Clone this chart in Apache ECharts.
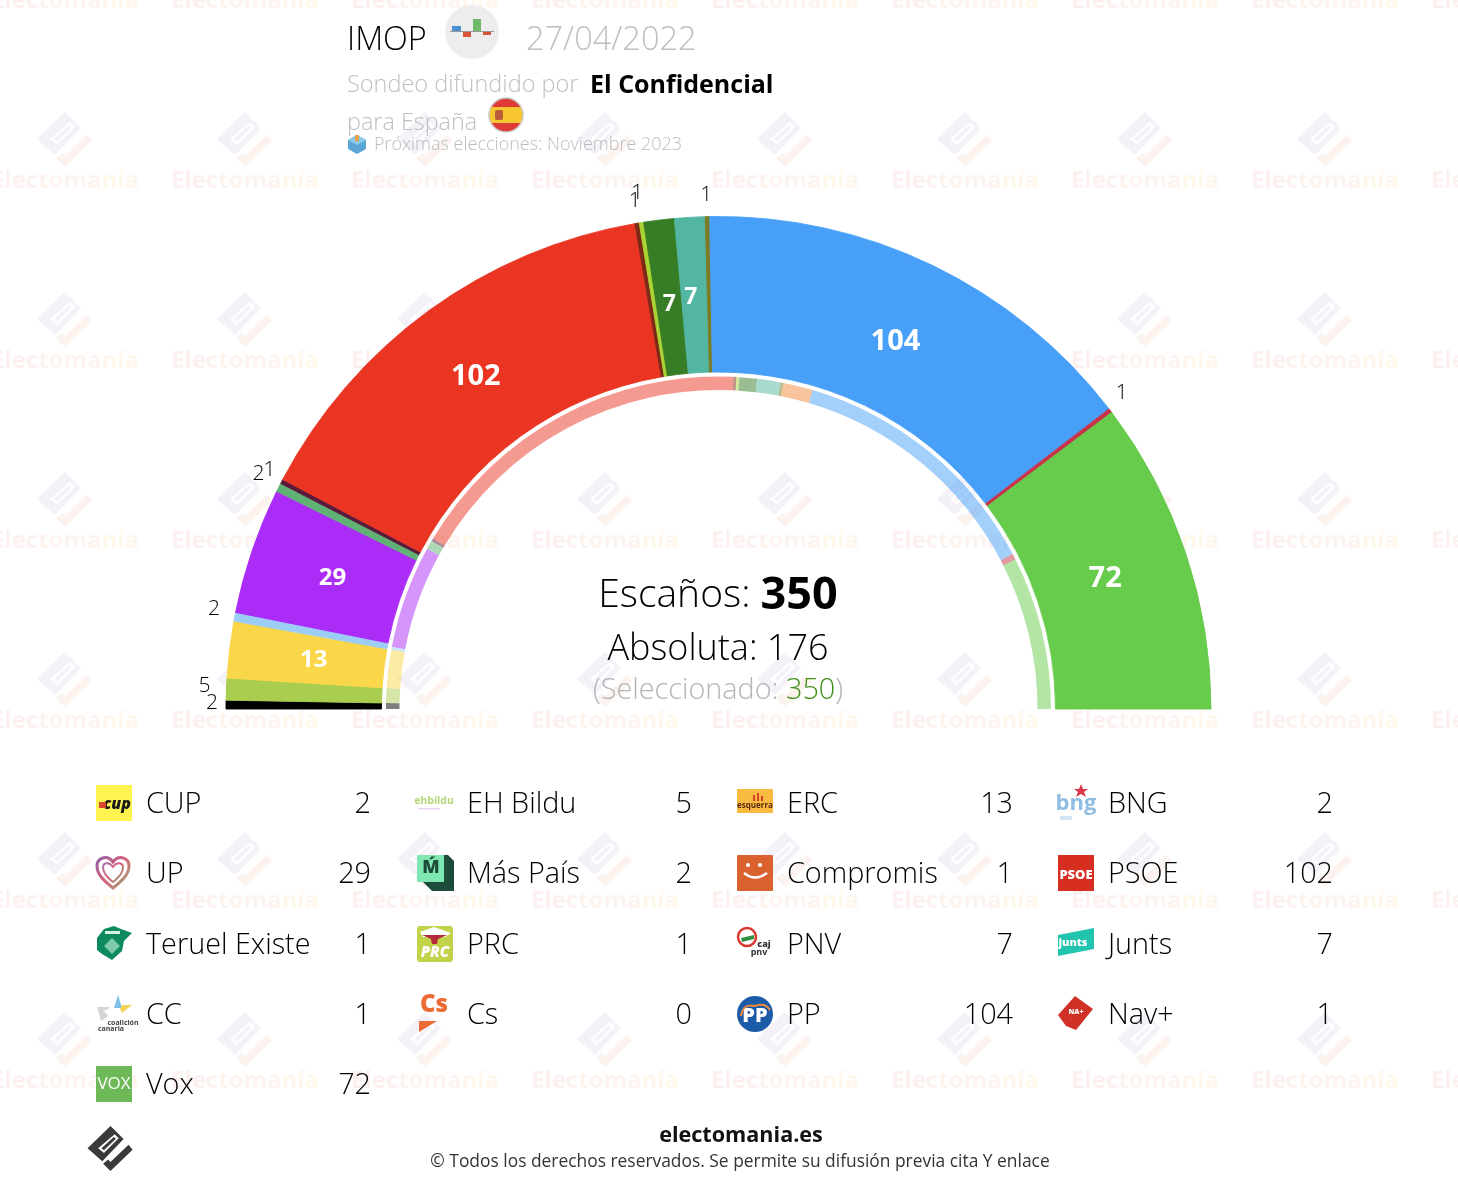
<!DOCTYPE html>
<html>
<head>
<meta charset="utf-8">
<script src="https://cdn.jsdelivr.net/npm/echarts@6/dist/echarts.min.js"></script>
<style>html,body{margin:0;padding:0;background:#fff}#c{width:1458px;height:1184px}</style>
</head>
<body>
<div id="c"></div>
<script>
const parties = ['CUP','EH Bildu','ERC','BNG','UP','Más País','Compromis','PSOE','Teruel Existe','PRC','PNV','Junts','CC','Cs','PP','Nav+','Vox'];
const seats = [2,5,13,2,29,2,1,102,1,1,7,7,1,0,104,1,72];
const prevSeats = [2,5,13,1,35,3,1,120,1,1,6,8,1,10,89,2,52];
const colors = ['#000000','#a8cd4f','#f9d748','#9ccdf7','#ac2cf7','#5fb274','#5a1a3c','#eb3523','#7c2a16','#a9d433','#367d25','#52b6a2','#7c7a22','#f08a3c','#479ff8','#c8334a','#67cb4c'];
const totalSeats = 350, majority = 176, selected = 350;

const F = '"Open Sans"';
const chart = echarts.init(document.getElementById('c'), null, {renderer:'canvas'});
const g = [];
let pathId=0;
function txt(x,y,s,size,fill,opt){opt=opt||{};g.push({type:'text',z:opt.z||5,silent:true,style:{x,y:y+2,text:s,fill,font:(opt.i?'italic ':'')+(opt.w||300)+' '+size+'px '+F,textAlign:opt.a||'left',textVerticalAlign:'middle'}});}
function poly(pts,fill,z){g.push({type:'polygon',z:z||5,silent:true,shape:{points:pts},style:{fill}});}
function rect(x,y,w,h,fill,r){g.push({type:'rect',z:5,silent:true,shape:{x,y,width:w,height:h,r:r||0},style:{fill}});}
function circ(x,y,r,fill,stroke,lw){g.push({type:'circle',z:5,silent:true,shape:{cx:x,cy:y,r},style:{fill,stroke,lineWidth:lw||0}});}
function pth(d,style){const n='logoPath'+(pathId++);echarts.graphic.registerShape(n,echarts.graphic.extendPath(d,{}));g.push({type:n,z:5,silent:true,style});}
function brand(ax,ay,s,c1,c2,bg,z){
  const P=a=>a.map(p=>[ax+p[0]*s,ay+p[1]*s]);
  poly(P([[0,0],[16,16],[-10,43],[-28,27]]),c1,z);
  poly(P([[5,10],[10,15],[-8,33],[-15,27]]),bg,z);
  poly(P([[4,13.5],[6.5,15.5],[-8,29.5],[-11,27]]),c1,z);
  poly(P([[22,23],[27,29],[0,55],[-9,46],[-3,41],[0,44]]),c2,z);
}
// watermark tiles
for(let r=0;r<7;r++){for(let c=0;c<9;c++){
  const x=65+180*c,y=180*r;
  if(r>0) brand(x,y-68,1,'#f5f1f8','#fdf3ee','#ffffff',-10);
  g.push({type:'text',z:-10,silent:true,style:{x,y:y+1,text:'{a|Elec}{b|toma}{c|nía}',font:'700 24px '+F,textAlign:'center',textVerticalAlign:'middle',
    rich:{a:{font:'700 24px '+F,fill:'#fdf1f0'},b:{font:'700 24px '+F,fill:'#fdf4ef'},c:{font:'700 24px '+F,fill:'#fff7ec'}}}});
}}
// header
txt(347,39,'IMOP',32.4,'#000');
circ(472,32,27,'#eeeded');
rect(452,26,9,6,'#4a90d0');rect(463,32,8,5,'#d9553a');rect(473,19,8,12,'#6dbb6a');rect(483,32,8,3,'#d9553a');rect(450,31,44,1,'#9a9a9a');
txt(526,39,'27/04/2022',32.5,'#bfbfbf');
txt(347,83,'Sondeo difundido por',23.5,'#c0c0c0');
txt(590,84,'El Confidencial',25,'#000',{w:700});
txt(347,121,'para España',23.4,'#c0c0c0');
g.push({type:'circle',z:5,silent:true,shape:{cx:506,cy:115,r:17},style:{stroke:'#c9c9c9',lineWidth:1.5,fill:new echarts.graphic.LinearGradient(0,0,0,1,[{offset:0,color:'#de3a36'},{offset:.27,color:'#de3a36'},{offset:.27,color:'#f8c630'},{offset:.73,color:'#f8c630'},{offset:.73,color:'#de3a36'},{offset:1,color:'#de3a36'}])}});
rect(495,110,8,10,'#b9603a',2);
poly([[357,135],[366,140],[366,149],[357,154],[348,149],[348,140]],'#5aa6d6');
poly([[357,135],[366,140],[357,145],[348,140]],'#8ccbe8');
rect(355,135,4,6,'#eda04a');
txt(374,143,'Próximas elecciones: Noviembre 2023',18,'#bcbcbc');
// centre
g.push({type:'text',z:5,silent:true,style:{x:718,y:596,textAlign:'center',textVerticalAlign:'middle',text:'{a|Escaños: }{b|'+totalSeats+'}',rich:{a:{font:'300 39px '+F,fill:'#000'},b:{font:'700 45px '+F,fill:'#000'}}}});
txt(718,648,'Absoluta: '+majority,36,'#000',{a:'center'});
g.push({type:'text',z:5,silent:true,style:{x:718,y:691,textAlign:'center',textVerticalAlign:'middle',text:'{a|(Seleccionado: }{b|'+selected+'}{a|)}',rich:{a:{font:'300 28.8px '+F,fill:'#b5b5b5'},b:{font:'300 28.8px '+F,fill:'#3f8f17'}}}});
// footer
brand(110.5,1126,.82,'#3a3a3a','#3a3a3a','#ffffff',5);
txt(741,1134,'electomania.es',21.6,'#111',{w:700,a:'center'});
txt(740,1160,'© Todos los derechos reservados. Se permite su difusión previa cita Y enlace',17.4,'#333',{w:400,a:'center'});
// legend logos
const grad=(a,b,c)=>new echarts.graphic.LinearGradient(0,0,1,1,[{offset:0,color:a},{offset:.5,color:b},{offset:1,color:c}]);
const logos={
 'CUP':(x,y)=>{rect(x,y-18,36,36,'#fff44f');txt(x+21,y-1,'cup',16,'#1a1a1a',{w:800,a:'center',i:1});rect(x+3,y-1,7,6,'#d9452d');},
 'UP':(x,y)=>{
   pth(`M${x+17} ${y+15} C${x+7} ${y+7} ${x+1} ${y+1} ${x+1} ${y-7} C${x+1} ${y-15} ${x+11} ${y-19} ${x+17} ${y-11} C${x+23} ${y-19} ${x+33} ${y-15} ${x+33} ${y-7} C${x+33} ${y+1} ${x+27} ${y+7} ${x+17} ${y+15} Z`,{fill:'#fff',lineWidth:3,stroke:grad('#8c5ea8','#d9627a','#8fb878')});
   pth(`M${x+17} ${y+9} C${x+11} ${y+4} ${x+7} ${y} ${x+7} ${y-6} C${x+7} ${y-10} ${x+13} ${y-12} ${x+17} ${y-6} C${x+21} ${y-12} ${x+27} ${y-10} ${x+27} ${y-6} C${x+27} ${y} ${x+23} ${y+4} ${x+17} ${y+9} Z`,{fill:'#fff',lineWidth:2,stroke:grad('#a06fb0','#d9627a','#86ad6e')});},
 'Teruel Existe':(x,y)=>{poly([[x+1,y-6],[x+8,y-15],[x+18,y-18],[x+25,y-15],[x+36,y-11],[x+28,y-3],[x+26,y+7],[x+16,y+16],[x+6,y+10],[x+1,y+6]],'#0e8a5f');poly([[x+16,y-6],[x+24,y+2],[x+16,y+10],[x+8,y+2]],'#7fcaa8');rect(x+9,y-13,15,3,'#d8f0e4');},
 'CC':(x,y)=>{poly([[x+22,y-19],[x+26,y-6],[x+18,y-6]],'#7cc0e8');poly([[x+26,y-9],[x+36,y-9],[x+26,y-1],[x+24,y-5]],'#f2d35a');poly([[x+1,y-7],[x+14,y-7],[x+11,y-4],[x+7,y-4],[x+12,y+2],[x+5,y+7]],'#d5d5d5');txt(x+27,y+7,'coalición',7,'#444',{w:700,a:'center'});txt(x+15,y+13,'canaria',7,'#444',{w:700,a:'center'});},
 'Vox':(x,y)=>{rect(x,y-18,36,36,'#6db857');txt(x+18,y-2,'VOX',17,'#fff',{w:400,a:'center'});},
 'EH Bildu':(x,y)=>{txt(x+17,y-4,'ehbildu',10.5,'#b8d57a',{w:700,a:'center'});rect(x+1,y+5,22,1.5,'#ead7ef');},
 'Más País':(x,y)=>{poly([[x+1,y-18],[x+31,y-18],[x+37,y-12],[x+37,y+18],[x+15,y+18],[x+1,y+4]],'#1d4d3a');rect(x,y-18,27,27,'#7fe8b2');txt(x+14,y-7,'Ḿ',18,'#1d4d3a',{w:800,a:'center'});},
 'PRC':(x,y)=>{rect(x,y-18,36,36,'#c2d34a',3);poly([[x+3,y-12],[x+17,y-17],[x+34,y-11],[x+28,y-7],[x+6,y-7]],'#fff');poly([[x+5,y-9],[x+30,y-9],[x+21,y-5],[x+20,y],[x+15,y],[x+14,y-5]],'#b32b3a');txt(x+18,y+7,'PRC',15,'#fff',{w:800,a:'center',i:1});},
 'Cs':(x,y)=>{txt(x+17,y-11,'Cs',24,'#ec6b35',{w:800,a:'center'});poly([[x+2,y+7],[x+20,y+7],[x+2,y+18]],'#ec6b35');},
 'ERC':(x,y)=>{rect(x,y-14,36,24,'#f9bb3f');txt(x+18,y+1,'esquerra',8,'#5a2a10',{w:700,a:'center'});rect(x+16,y-8,2,6,'#d6402a');rect(x+20,y-10,2,8,'#d6402a');rect(x+24,y-7,2,5,'#d6402a');},
 'Compromis':(x,y)=>{rect(x,y-18,36,36,'#d9622f',1);circ(x+11,y-8,2,'#fff');circ(x+23,y-8,2,'#fff');pth(`M${x+7} ${y} Q${x+18} ${y+9} ${x+30} ${y}`,{fill:'none',stroke:'#fff',lineWidth:2.5});},
 'PNV':(x,y)=>{circ(x+10,y-7,9,'#fff','#d8372e',2.5);poly([[x+4,y-6],[x+17,y-9],[x+17,y-5],[x+5,y-2]],'#2d8f3d');txt(x+27,y-2,'caj',9,'#333',{w:800,a:'center'});txt(x+22,y+6,'pnv',9,'#333',{w:700,a:'center'});},
 'PP':(x,y)=>{circ(x+18,y,18,'#1c5ba8');txt(x+18,y,'PP',20,'#fff',{w:800,a:'center'});pth(`M${x+4} ${y+2} Q${x+6} ${y-11} ${x+18} ${y-8} Q${x+28} ${y-12} ${x+33} ${y-4}`,{fill:'none',stroke:'#ef8a3b',lineWidth:2});},
 'BNG':(x,y)=>{txt(x+18,y-1,'bng',22,'#8fbde3',{w:700,a:'center'});poly([[x+23,y-19],[x+25,y-14],[x+30,y-14],[x+26,y-11],[x+28,y-6],[x+23,y-9],[x+18,y-6],[x+20,y-11],[x+16,y-14],[x+21,y-14]],'#d9364a');rect(x+2,y+13,12,4,'#d5e4f2');},
 'PSOE':(x,y)=>{rect(x,y-18,36,36,'#d62f22');txt(x+18,y,'PSOE',13,'#fff',{w:800,a:'center'});},
 'Junts':(x,y)=>{poly([[x,y-9],[x+36,y-16],[x+36,y+5],[x,y+12]],'#22c4ad');txt(x+15,y-3,'junts',11,'#fff',{w:800,a:'center'});},
 'Nav+':(x,y)=>{poly([[x+17,y-18],[x+35,y-5],[x+18,y+16],[x+8,y+12],[x,y+1]],'#cf3127');txt(x+18,y-4,'NA+',7,'#fff',{w:800,a:'center'});}
};
const colX=[96,417,737,1058], nameX=[146,467,787,1108], valX=[371,692,1013,1333], rowY=[803,873,944,1014,1084];
parties.forEach((n,i)=>{
  const c=i%4,r=Math.floor(i/4);
  logos[n](colX[c],rowY[r]);
  txt(nameX[c],rowY[r],n,28.8,'#000');
  txt(valX[c],rowY[r],String(seats[i]),28.8,'#000',{a:'right'});
});

function sizeOf(v){return v>=70?29:v>=13?24:23;}
const outerNudge={0:[5,-1],1:[-3,-3],3:[-2,-6],5:[-2,-10],6:[6,-8],8:[10,-14],9:[8,-22],12:[10,-14],15:[-6,-13]};
const insideNudge={7:[-3,-2],11:[-4,-4],16:[0,-1]};
const outerData=parties.map((n,i)=>{
  const v=seats[i],inside=v>=7;
  return {name:n,value:v,itemStyle:{color:colors[i],borderColor:colors[i],borderWidth:v>0?0.9:0},
    label:{show:v>0&&!inside,position:'outside',color:'#000',fontFamily:F,fontWeight:300,fontSize:21}};
});
const insideData=parties.map((n,i)=>{
  const v=seats[i],inside=v>=7;
  return {name:n,value:v,itemStyle:{color:'rgba(0,0,0,0)'},
    label:{show:inside,position:'inside',color:'#fff',fontFamily:F,fontWeight:700,fontSize:sizeOf(v)}};
});
const ringData=parties.map((n,i)=>({name:n,value:prevSeats[i],itemStyle:{color:colors[i],opacity:.5}}));
const nudger=t=>p=>{const n=t[p.dataIndex]||[0,0];return {dx:n[0],dy:n[1],hideOverlap:false,moveOverlap:false};};

chart.setOption({
  animation:false,
  backgroundColor:'#fff',
  graphic:{elements:g},
  series:[
   {type:'pie',silent:true,z:2,center:[718.5,709],radius:[337,492.5],startAngle:180,endAngle:0,clockwise:true,avoidLabelOverlap:false,
    minShowLabelAngle:0,data:outerData,
    label:{formatter:'{c}'},
    labelLine:{show:false,length:8,length2:0},
    labelLayout:nudger(outerNudge)},
   {type:'pie',silent:true,z:3,center:[718.5,709],radius:[317,492.5],startAngle:180,endAngle:0,clockwise:true,avoidLabelOverlap:false,
    minShowLabelAngle:0,data:insideData,
    label:{formatter:'{c}'},labelLine:{show:false},labelLayout:nudger(insideNudge)},
   {type:'pie',silent:true,z:2,center:[718.5,709],radius:[319,332.5],startAngle:180,endAngle:0,clockwise:true,avoidLabelOverlap:false,
    data:ringData,label:{show:false},labelLine:{show:false}}
  ]
});
</script>
</body>
</html>
